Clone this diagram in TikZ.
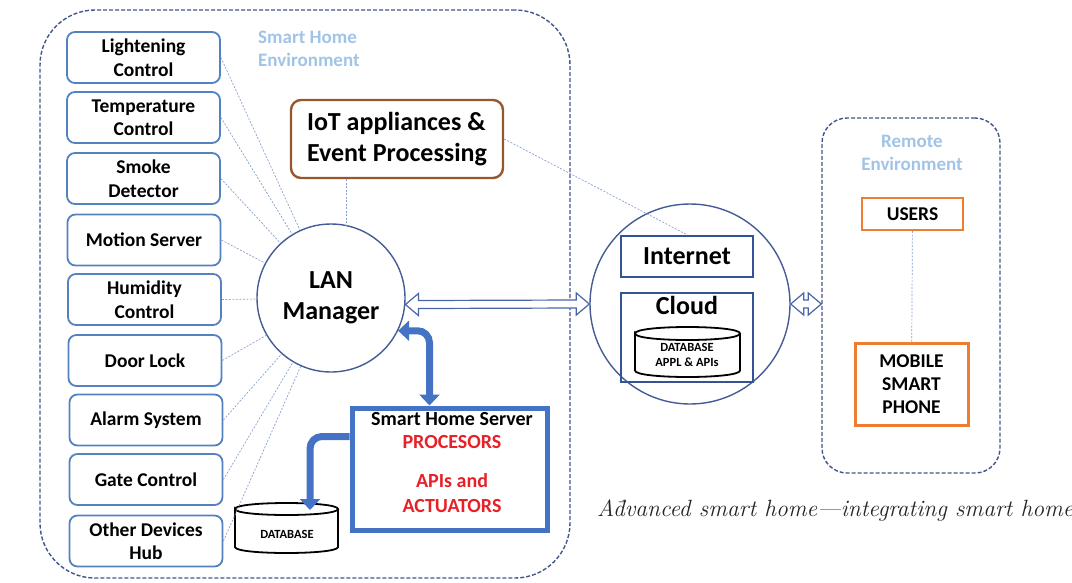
\documentclass[tikz,border=0pt]{standalone}
\usepackage{fontspec}
\setsansfont{Carlito}
\usetikzlibrary{arrows.meta,calc}

\definecolor{devblue}{RGB}{84,130,192}
\definecolor{envdash}{RGB}{66,86,140}
\definecolor{envtext}{RGB}{160,196,230}
\definecolor{linkgray}{RGB}{135,160,205}
\definecolor{iotbrown}{RGB}{152,86,46}
\definecolor{netblue}{RGB}{50,84,150}
\definecolor{srvblue}{RGB}{68,114,196}
\definecolor{procred}{RGB}{232,32,40}
\definecolor{userorange}{RGB}{237,125,49}
\definecolor{circblue}{RGB}{68,92,150}
\definecolor{arrowblue}{RGB}{72,102,168}
\definecolor{captext}{RGB}{35,35,40}

% database drum: left, top, right, bottom, half height of the lid
\newcommand\dbcylinder[5]{%
  \draw[dbline] (#1,{#2+#5}) .. controls (#1,{#2+#5-1.333*#5}) and (#3,{#2+#5-1.333*#5}) .. (#3,{#2+#5})
    .. controls (#3,{#2+#5+1.333*#5}) and (#1,{#2+#5+1.333*#5}) .. (#1,{#2+#5})
    -- (#1,{#4-#5})
    .. controls (#1,{#4-#5+1.333*#5}) and (#3,{#4-#5+1.333*#5}) .. (#3,{#4-#5})
    -- (#3,{#2+#5});}

% hollow two-headed block arrow between two points on one level
\newcommand\hollowarrow[2]{%
  \draw[harrow] (#1) -- ([shift={(13pt,11pt)}]#1) -- ([shift={(13pt,4pt)}]#1)
    -- ([shift={(-13pt,4pt)}]#2) -- ([shift={(-13pt,11pt)}]#2) -- (#2)
    -- ([shift={(-13pt,-11pt)}]#2) -- ([shift={(-13pt,-4pt)}]#2)
    -- ([shift={(13pt,-4pt)}]#1) -- ([shift={(13pt,-11pt)}]#1) -- cycle;}

\tikzset{
  envbox/.style={draw=envdash, line width=1.4pt, dash pattern=on 4pt off 2pt},
  envlabel/.style={text=envtext, font=\sffamily\bfseries\fontsize{19}{23}\selectfont, inner sep=0pt},
  dev/.style={draw=devblue, line width=1.8pt, rounded corners=8pt, minimum width=153pt,
    minimum height=51pt, align=center, inner sep=0pt,
    font=\sffamily\bfseries\fontsize{19.5}{23.5}\selectfont},
  link/.style={draw=linkgray, line width=0.7pt, dash pattern=on 2pt off 1.5pt},
  bigtext/.style={font=\sffamily\bfseries\fontsize{26}{31}\selectfont},
  netbox/.style={draw=netblue, line width=2.5pt, minimum width=132pt, inner sep=0pt},
  dbline/.style={draw=black, line width=1.8pt, fill=white},
  dbtext/.style={font=\sffamily\bfseries\fontsize{12.5}{15}\selectfont, align=center, inner sep=0pt},
  harrow/.style={draw=arrowblue, line width=1.2pt, fill=white, line join=miter},
  fat/.style={draw=srvblue, line width=7pt, rounded corners=12pt},
  fattip/.tip={Triangle[width=20pt,length=11pt]},
  srvtext/.style={font=\sffamily\bfseries\fontsize{20}{24}\selectfont, inner sep=0pt, anchor=base},
  orbox/.style={draw=userorange, align=center, inner sep=0pt,
    font=\sffamily\bfseries\fontsize{19.5}{23}\selectfont}
}

\begin{document}
\begin{tikzpicture}[x=1pt, y=-1pt]
\useasboundingbox (0,0) rectangle (1072,582);

% environments
\node[envbox, rounded corners=55pt, minimum width=530pt, minimum height=568pt] (home) at (305,294) {};
\node[envlabel, align=left, anchor=north west] (homelbl) at (258,31) {Smart Home\\Environment};
\node[envbox, rounded corners=25pt, minimum width=178pt, minimum height=355pt] (remote) at (911,295.5) {};
\node[envlabel, align=center, anchor=north] (remotelbl) at (912,134.5) {Remote\\Environment};

% devices of the home
\node[dev] (d1) at (143.5,57.5) {Lightening\\Control};
\node[dev] (d2) at (143.5,117.5) {Temperature\\Control};
\node[dev] (d3) at (143.5,178.5) {Smoke\\Detector};
\node[dev] (d4) at (144,240) {Motion Server};
\node[dev] (d5) at (144.5,299.5) {Humidity\\Control};
\node[dev] (d6) at (145,360.5) {Door Lock};
\node[dev] (d7) at (146,420) {Alarm System};
\node[dev] (d8) at (146,479.5) {Gate Control};
\node[dev] (d9) at (146,541) {Other Devices\\Hub};

% LAN manager and event processing
\node[draw=circblue, line width=1.4pt, circle, minimum size=148pt, inner sep=0pt,
  align=center, bigtext] (lan) at (331,298) {LAN\\Manager};
\node[draw=iotbrown, line width=2.4pt, rounded corners=10pt, minimum width=212pt,
  minimum height=78pt, align=left, inner sep=0pt, bigtext] (iot) at (397,139)
  {IoT appliances \&\\Event Processing};

% internet and cloud
\node[draw=circblue, line width=1.4pt, circle, minimum size=200pt, inner sep=0pt] (cloud) at (690,304) {};
\node[netbox, minimum height=41pt, bigtext] (internet) at (687,256.5) {Internet};
\node[netbox, minimum height=89pt] (cloudbox) at (687,337.5) {};
\node[bigtext, anchor=base, inner sep=0pt] (cloudlbl) at (687,314) {Cloud};
\dbcylinder{635}{327}{740}{377}{6.5}
\node[dbtext] (clouddb) at (687,355) {DATABASE\\APPL \& APIs};

% remote side
\node[orbox, line width=2pt, minimum width=101pt, minimum height=32pt] (users) at (912.5,214) {USERS};
\node[orbox, line width=3pt, minimum width=113pt, minimum height=82pt] (mobile) at (911.5,384) {MOBILE\\SMART\\PHONE};

% home server and its database
\node[draw=srvblue, line width=5pt, minimum width=195pt, minimum height=122pt, inner sep=0pt] (srv) at (449.5,469) {};
\node[srvtext] (srvname) at (452,425) {Smart Home Server};
\node[srvtext, text=procred] (srvproc) at (452,448) {PROCESORS};
\node[srvtext, text=procred] (srvapi) at (452,487) {APIs and};
\node[srvtext, text=procred] (srvact) at (452,512) {ACTUATORS};
\dbcylinder{235}{503}{338}{553}{6}
\node[dbtext] (homedb) at (287,534) {DATABASE};
\coordinate (dbtop) at (310,510);

% dotted links
\foreach \d in {d1,d2,d3,d4,d5,d6,d7,d8,d9}
  \draw[link] (\d.east) -- (lan);
\draw[link] (iot.south -| lan.78) -- (lan.78);
\draw[link] (iot.east) -- (internet.north);
\draw[link] (users) -- (mobile);

% data paths
\hollowarrow{lan.-5}{cloud.west}
\hollowarrow{cloud.east}{cloud.east -| remote.west}
\draw[fat, fattip-fattip] (lan.-26) -| ($(srv.north west)!0.4!(srv.north east)$);
\draw[fat, -fattip] ([yshift=-31pt]srv.north west) -| (dbtop);

% caption
\node[anchor=base west, inner sep=0pt, text=captext, font=\rmfamily\itshape\fontsize{23.5}{28}\selectfont]
  (caption) at (597,516) {A\={d}vanced smart home---integrating smart home};
\end{tikzpicture}
\end{document}
